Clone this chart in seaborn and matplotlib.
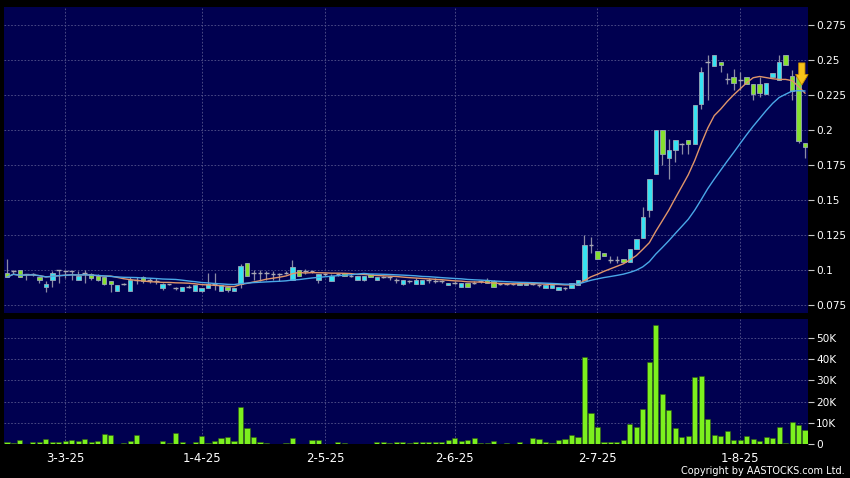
import numpy as np
import pandas as pd
import seaborn as sns
import matplotlib.pyplot as plt

# daily candles, Feb-18-25 .. Aug-15-25 (one entry per trading day)
opens = [0.098, 0.099, 0.100, 0.097, 0.097, 0.095, 0.088, 0.093, 0.100, 0.099,
         0.099, 0.093, 0.098, 0.097, 0.096, 0.095, 0.092, 0.085, 0.090, 0.085,
         0.093, 0.095, 0.093, 0.092, 0.087, 0.090, 0.087, 0.085, 0.088, 0.085,
         0.085, 0.087, 0.090, 0.085, 0.088, 0.085, 0.090, 0.105, 0.098, 0.098,
         0.098, 0.097, 0.097, 0.098, 0.093, 0.100, 0.099, 0.099, 0.093, 0.097,
         0.092, 0.097, 0.098, 0.096, 0.093, 0.093, 0.097, 0.093, 0.095, 0.095,
         0.093, 0.090, 0.092, 0.090, 0.090, 0.093, 0.092, 0.092, 0.089, 0.091,
         0.088, 0.091, 0.091, 0.092, 0.093, 0.092, 0.090, 0.090, 0.090, 0.089,
         0.089, 0.090, 0.089, 0.087, 0.087, 0.086, 0.087, 0.087, 0.089, 0.093,
         0.118, 0.114, 0.112, 0.107, 0.107, 0.108, 0.106, 0.115, 0.123, 0.143,
         0.169, 0.200, 0.180, 0.186, 0.190, 0.193, 0.190, 0.219, 0.249, 0.246,
         0.249, 0.237, 0.238, 0.236, 0.238, 0.233, 0.233, 0.226, 0.238, 0.236,
         0.254, 0.239, 0.238, 0.191]
highs = [0.108, 0.100, 0.100, 0.097, 0.098, 0.095, 0.092, 0.099, 0.100, 0.099,
         0.099, 0.099, 0.100, 0.098, 0.097, 0.095, 0.092, 0.089, 0.091, 0.095,
         0.095, 0.096, 0.094, 0.094, 0.091, 0.090, 0.088, 0.088, 0.089, 0.089,
         0.087, 0.098, 0.098, 0.089, 0.088, 0.087, 0.104, 0.105, 0.100, 0.100,
         0.099, 0.099, 0.098, 0.099, 0.107, 0.100, 0.101, 0.099, 0.097, 0.098,
         0.097, 0.098, 0.098, 0.097, 0.096, 0.096, 0.097, 0.095, 0.096, 0.096,
         0.094, 0.093, 0.093, 0.094, 0.093, 0.094, 0.094, 0.093, 0.091, 0.092,
         0.091, 0.091, 0.092, 0.093, 0.094, 0.093, 0.091, 0.091, 0.091, 0.091,
         0.091, 0.091, 0.090, 0.089, 0.089, 0.088, 0.088, 0.091, 0.093, 0.125,
         0.124, 0.114, 0.112, 0.110, 0.110, 0.108, 0.115, 0.122, 0.145, 0.165,
         0.200, 0.200, 0.194, 0.193, 0.191, 0.193, 0.218, 0.245, 0.254, 0.254,
         0.249, 0.241, 0.244, 0.242, 0.238, 0.233, 0.238, 0.234, 0.241, 0.254,
         0.254, 0.243, 0.238, 0.191]
lows = [0.095, 0.097, 0.095, 0.093, 0.096, 0.091, 0.084, 0.088, 0.091, 0.094,
        0.093, 0.093, 0.091, 0.093, 0.092, 0.089, 0.084, 0.085, 0.089, 0.085,
        0.090, 0.091, 0.091, 0.090, 0.086, 0.089, 0.086, 0.085, 0.087, 0.085,
        0.084, 0.087, 0.086, 0.085, 0.084, 0.085, 0.087, 0.096, 0.093, 0.092,
        0.093, 0.093, 0.092, 0.097, 0.093, 0.096, 0.097, 0.098, 0.091, 0.096,
        0.092, 0.096, 0.096, 0.095, 0.093, 0.092, 0.095, 0.093, 0.094, 0.093,
        0.091, 0.089, 0.091, 0.090, 0.090, 0.091, 0.091, 0.091, 0.089, 0.090,
        0.088, 0.088, 0.090, 0.091, 0.091, 0.088, 0.089, 0.089, 0.089, 0.089,
        0.089, 0.089, 0.088, 0.087, 0.087, 0.086, 0.086, 0.087, 0.089, 0.093,
        0.112, 0.108, 0.110, 0.105, 0.105, 0.106, 0.106, 0.115, 0.123, 0.138,
        0.169, 0.175, 0.165, 0.177, 0.183, 0.183, 0.190, 0.215, 0.222, 0.246,
        0.242, 0.233, 0.229, 0.229, 0.233, 0.222, 0.224, 0.226, 0.238, 0.236,
        0.247, 0.222, 0.191, 0.180]
closes = [0.095, 0.099, 0.095, 0.097, 0.097, 0.093, 0.090, 0.098, 0.100, 0.099,
          0.099, 0.096, 0.098, 0.094, 0.093, 0.090, 0.090, 0.089, 0.090, 0.093,
          0.093, 0.092, 0.093, 0.092, 0.090, 0.090, 0.087, 0.088, 0.088, 0.089,
          0.087, 0.090, 0.090, 0.089, 0.086, 0.087, 0.103, 0.096, 0.098, 0.098,
          0.098, 0.097, 0.097, 0.098, 0.102, 0.096, 0.099, 0.099, 0.097, 0.097,
          0.096, 0.097, 0.096, 0.096, 0.096, 0.096, 0.095, 0.095, 0.095, 0.095,
          0.093, 0.093, 0.092, 0.093, 0.093, 0.093, 0.092, 0.092, 0.091, 0.091,
          0.091, 0.088, 0.091, 0.092, 0.091, 0.088, 0.090, 0.090, 0.090, 0.091,
          0.091, 0.090, 0.089, 0.089, 0.089, 0.088, 0.087, 0.091, 0.093, 0.118,
          0.118, 0.108, 0.110, 0.107, 0.107, 0.106, 0.115, 0.122, 0.138, 0.165,
          0.200, 0.183, 0.186, 0.193, 0.190, 0.190, 0.218, 0.242, 0.249, 0.254,
          0.247, 0.237, 0.234, 0.236, 0.233, 0.226, 0.227, 0.234, 0.241, 0.249,
          0.247, 0.228, 0.192, 0.188]
# volume in thousands of shares
volumes_k = [0.8, 0.3, 1.8, 0.1, 0.8, 0.8, 2.2, 1.1, 1.1, 1.4,
             1.7, 1.3, 2.2, 0.8, 1.4, 4.9, 4.4, 0.2, 0.3, 1.3,
             4.1, 0.1, 0.1, 0.1, 1.2, 0.3, 5.4, 1.1, 0.1, 1.1,
             3.6, 0.5, 1.6, 2.7, 3.3, 1.3, 17.6, 7.6, 3.3, 1.1,
             0.6, 0.1, 0.1, 0.5, 2.7, 0.1, 0.1, 1.9, 1.9, 0.1,
             0.1, 0.8, 0.4, 0.1, 0.2, 0.2, 0.2, 0.8, 0.8, 0.3,
             0.9, 0.9, 0.4, 1.1, 1.1, 0.8, 1.1, 1.1, 1.7, 2.7,
             1.3, 1.9, 3.0, 0.5, 0.5, 1.6, 0.1, 0.6, 0.2, 0.9,
             0.1, 3.0, 2.2, 0.8, 0.5, 2.1, 2.2, 4.1, 3.3, 41.0,
             14.8, 7.9, 1.1, 1.1, 1.1, 2.1, 9.5, 7.9, 16.5, 38.9,
             56.2, 23.5, 16.0, 7.5, 3.5, 4.0, 31.6, 31.9, 11.9, 4.4,
             4.0, 6.0, 1.9, 1.9, 3.6, 2.4, 1.6, 3.2, 2.9, 8.1,
             0.6, 10.6, 9.2, 6.5]

date_tick_pos = [9, 30, 49, 69, 91, 113]
date_tick_labels = ['3-3-25', '1-4-25', '2-5-25', '2-6-25', '2-7-25', '1-8-25']
price_ticks = [0.075, 0.1, 0.125, 0.15, 0.175, 0.2, 0.225, 0.25, 0.275]
vol_ticks = [0, 10000, 20000, 30000, 40000, 50000]
vol_labels = ['0', '10K', '20K', '30K', '40K', '50K']

sns.set_theme(style='dark', rc={'axes.facecolor': '#000050',
                                'figure.facecolor': 'black'})
plt.rcParams['font.family'] = ['DejaVu Sans']

df = pd.DataFrame({'open': opens, 'high': highs, 'low': lows,
                   'close': closes, 'vol': np.array(volumes_k) * 1000})
df['idx'] = np.arange(len(df))
df['ma10'] = df['close'].rolling(10, min_periods=1).mean()
df['ma20'] = df['close'].rolling(20, min_periods=1).mean()

W, H = 850, 478
fig = plt.figure(figsize=(W / 100, H / 100), dpi=100)
ax = fig.add_axes([4 / W, 1 - 313 / H, 804 / W, 306 / H])
axv = fig.add_axes([4 / W, 1 - 444 / H, 804 / W, 125 / H])

grid_kw = dict(color='#55558c', linestyle=(0, (2, 2)), linewidth=0.6)
x_lim = (-0.45, len(df) - 0.55)

# price panel
up = df[df['close'] > df['open']]
down = df[df['close'] < df['open']]
flat = df[df['close'] == df['open']]
ax.vlines(df['idx'], df['low'], df['high'], color='#8c8ca4', lw=0.9, zorder=2)
ax.bar(up['idx'], up['close'] - up['open'], bottom=up['open'], width=0.68,
       color='#36e2f2', edgecolor='#9aa8b8', linewidth=0.6, zorder=3)
ax.bar(down['idx'], down['open'] - down['close'], bottom=down['close'], width=0.68,
       color='#86e030', edgecolor='#9aa8b8', linewidth=0.6, zorder=3)
ax.hlines(flat['close'], flat['idx'] - 0.36, flat['idx'] + 0.36,
          color='#a8a8b4', lw=1.0, zorder=3)
sns.lineplot(data=df, x='idx', y='ma10', ax=ax, color='#e0956a', lw=1.0, zorder=4)
sns.lineplot(data=df, x='idx', y='ma20', ax=ax, color='#4aa8e8', lw=1.0, zorder=4)

ax.annotate('', xy=(122.5, 0.2324), xytext=(122.5, 0.2482),
            arrowprops=dict(arrowstyle='simple,head_width=0.9,head_length=0.75,tail_width=0.45',
                            mutation_scale=10, fc='#f7c21a', ec='#c88a00', lw=0.6,
                            shrinkA=0, shrinkB=0), zorder=6)

ax.set_xlim(*x_lim)
ax.set_ylim(0.0693, 0.2882)
ax.set_xticks(date_tick_pos)
ax.set_yticks(price_ticks, [f'{t:g}' for t in price_ticks])
ax.yaxis.tick_right()
ax.tick_params(axis='x', length=0, labelbottom=False)
ax.tick_params(axis='y', colors='#c8c8c8', labelcolor='white', length=4,
               width=0.8, pad=2, labelsize=7.6, direction='out')
ax.grid(True, **grid_kw)
ax.set_xlabel('')
ax.set_ylabel('')

# volume panel
sns.barplot(data=df, x='idx', y='vol', ax=axv, color='#7cf01e', width=0.8,
            errorbar=None, saturation=1, edgecolor='#2e5a12', linewidth=0.4)
axv.set_xlim(*x_lim)
axv.set_ylim(0, 59000)
axv.set_xticks(date_tick_pos, date_tick_labels)
axv.set_yticks(vol_ticks, vol_labels)
axv.yaxis.tick_right()
axv.tick_params(axis='y', colors='#c8c8c8', labelcolor='white', length=4,
                width=0.8, pad=2, labelsize=7.6, direction='out')
axv.tick_params(axis='x', colors='#b0b0b0', labelcolor='white', length=3,
                width=0.8, pad=3, labelsize=8.5, direction='out')
axv.grid(True, **grid_kw)
axv.set_axisbelow(True)
axv.set_xlabel('')
axv.set_ylabel('')

for a in (ax, axv):
    for s in a.spines.values():
        s.set_visible(False)

fig.text(845 / W, 1 - 471 / H, 'Copyright by AASTOCKS.com Ltd.', ha='right',
         va='center', color='white', fontsize=7)

fig.savefig('out.png', dpi=100, facecolor='black')
